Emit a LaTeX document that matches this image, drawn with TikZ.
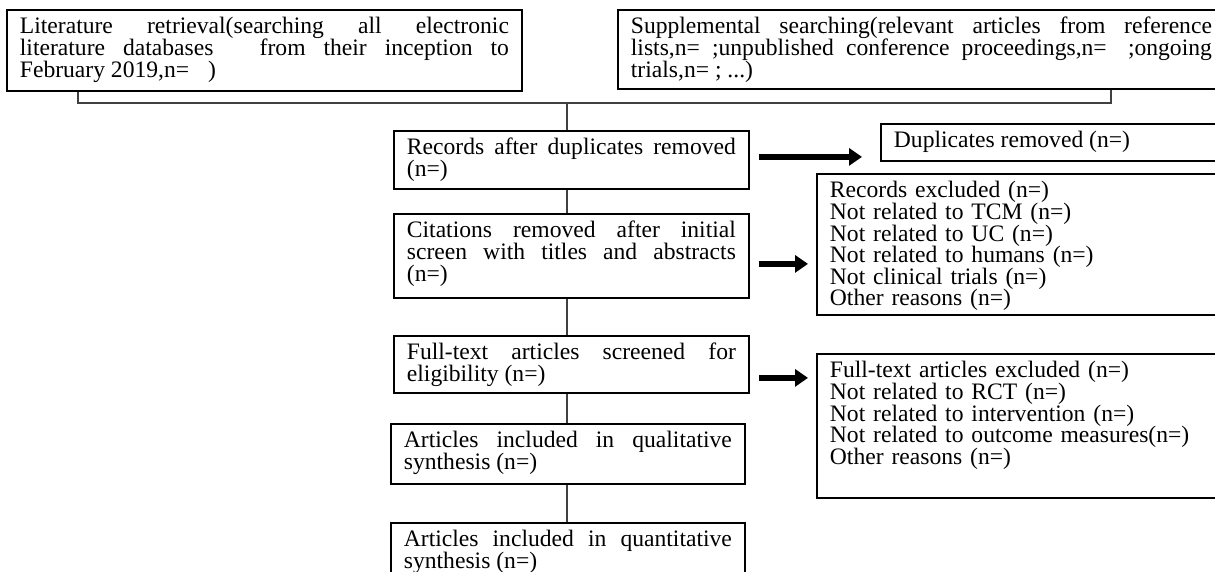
\documentclass[tikz,border=0pt]{standalone}
\usepackage{fontspec}
\setmainfont{Liberation Serif}
\usetikzlibrary{arrows.meta}
\tolerance=10000
\hyphenpenalty=10000
\exhyphenpenalty=10000
\newcommand{\boxfont}{\fontsize{11.8}{10.8}\selectfont\lineskiplimit=-10pt\relax}

\begin{document}
\begin{tikzpicture}[x=0.5pt,y=-0.5pt,
    box/.style={draw,line width=0.9pt,anchor=north west,align=justify,
      inner xsep=6.5pt,inner ysep=3pt,text height=9pt,font=\boxfont},
    link/.style={draw=black!75,line width=0.6pt},
    fat/.style={line width=3.2pt,-{Triangle[length=6.5pt,width=8.5pt]}}]
    \useasboundingbox (0,0) rectangle (1215,572);
    % search sources
    \node[box,text width=244.5pt,text depth=25.5pt] (lit) at (6,9) {Literature retrieval(searching all electronic\linebreak literature databases\hspace{1.2em} from their inception to\linebreak February 2019,n=\hspace{0.8em})};
    \node[box,text width=290.5pt,text depth=24.5pt] (supp) at (617,9) {Supplemental searching(relevant articles from reference\linebreak lists,n= ;unpublished conference proceedings,n=\hspace{0.9em};ongoing\linebreak trials,n= ; ...)};
    % main flow
    \node[box,text width=164.5pt,text depth=14pt] (rec) at (393,130) {Records after duplicates removed\linebreak (n=)};
    \node[box,text width=164.5pt,text depth=27pt] (cit) at (393,213) {Citations removed after initial\linebreak screen with titles and abstracts\linebreak (n=)};
    \node[box,text width=164.5pt,text depth=13.5pt] (ft) at (393,335) {Full-text articles screened for\linebreak eligibility (n=)};
    \node[box,text width=164pt,text depth=15pt] (qual) at (390,423) {Articles included in qualitative\linebreak synthesis (n=)};
    \node[box,text width=164pt,text depth=14pt] (quan) at (390,522) {Articles included in quantitative\linebreak synthesis (n=)};
    % exclusions
    \node[box,text width=159pt,text depth=3.5pt] (dup) at (880,123) {Duplicates removed (n=)};
    \node[box,text width=191pt,text depth=55.5pt,align=left] (rex) at (816,173) {Records excluded (n=)\newline Not related to TCM (n=)\newline Not related to UC (n=)\newline Not related to humans (n=)\newline Not clinical trials (n=)\newline Other reasons (n=)};
    \node[box,text width=191pt,text depth=57pt,align=left] (fex) at (816,353) {Full-text articles excluded (n=)\newline Not related to RCT (n=)\newline Not related to intervention (n=)\newline Not related to outcome measures(n=)\newline Other reasons (n=)};
    \coordinate (bl) at (78,103);
    \coordinate (br) at (1111,103);
    \coordinate (join) at (567,103);
    \draw[link] (bl |- lit.south) -- (bl) -- (br) -- (br |- supp.south);
    \draw[link] (join) -- (join |- rec.north);
    \draw[link] (join |- rec.south) -- (join |- cit.north);
    \draw[link] (join |- cit.south) -- (join |- ft.north);
    \draw[link] (join |- ft.south) -- (join |- qual.north);
    \draw[link] (join |- qual.south) -- (join |- quan.north);
    \draw[fat,shorten <=4.5pt,shorten >=9pt] ([yshift=1.5pt]rec.east) -- ([yshift=1.5pt]rec.east -| dup.west);
    \draw[fat,shorten <=4.5pt,shorten >=4pt] ([yshift=-4pt]cit.east) -- ([yshift=-4pt]cit.east -| rex.west);
    \draw[fat,shorten <=4.5pt,shorten >=4pt] ([yshift=-6.75pt]ft.east) -- ([yshift=-6.75pt]ft.east -| fex.west);
\end{tikzpicture}
\end{document}
